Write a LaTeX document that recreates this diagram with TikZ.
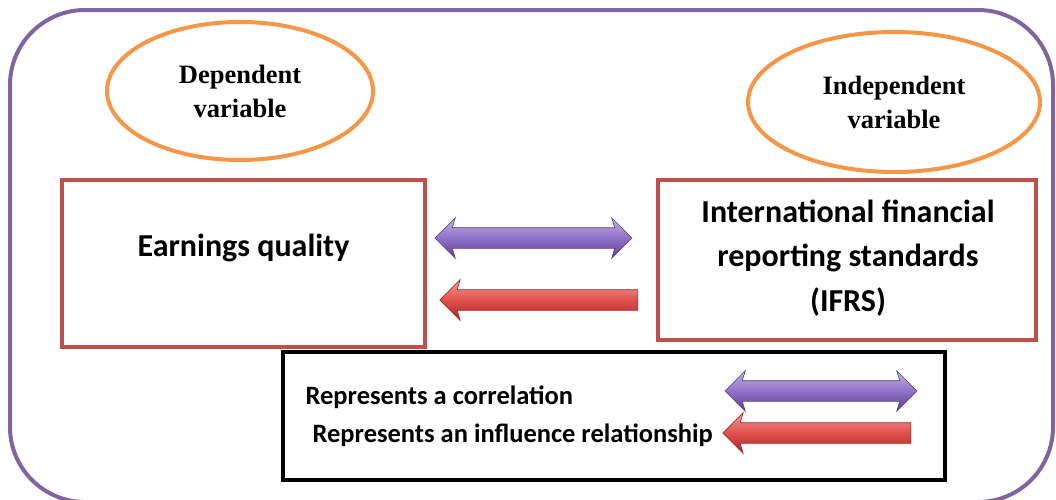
\documentclass[tikz,border=0pt]{standalone}
\usepackage{fontspec}
\setmainfont{Liberation Serif}
\newfontfamily\carlitofont{Carlito}
\usetikzlibrary{shapes.geometric,shapes.arrows}
\definecolor{frameP}{HTML}{8064A2}
\definecolor{ellO}{HTML}{F79646}
\definecolor{boxR}{HTML}{C0504D}
\definecolor{arrP}{HTML}{8F72C8}
\definecolor{arrPd}{HTML}{5B3F8C}
\definecolor{arrR}{HTML}{E2504C}
\definecolor{arrRd}{HTML}{A02A28}
\tikzset{
  frame/.style={draw=frameP,line width=4pt,rounded corners=75pt},
  varell/.style={ellipse,draw=ellO,line width=4pt,align=center,inner sep=0pt,font=\bfseries\fontsize{26.5}{34}\selectfont},
  conbox/.style={draw=boxR,line width=4pt},
  legbox/.style={draw=black,line width=4pt},
  purarrow/.style={double arrow,draw=arrPd,line width=0.6pt,top color=arrP!55!white,bottom color=arrPd,middle color=arrP,
     minimum height=#1,inner sep=0pt,double arrow head extend=10pt,double arrow head indent=3pt},
  redarrow/.style={single arrow,shape border rotate=180,draw=arrRd,line width=0.6pt,top color=arrR!55!white,bottom color=arrRd,middle color=arrR,
     minimum height=#1,inner sep=0pt,single arrow head extend=10pt,single arrow head indent=3pt},
  txt/.style={font=\carlitofont\bfseries\fontsize{#1}{#1}\selectfont},
  legtext/.style={font=\carlitofont\bfseries\fontsize{26.5}{30}\selectfont,anchor=west},
}
\newcommand{\shaft}{\rule{0pt}{20pt}}
\begin{document}
\begin{tikzpicture}[x=1pt,y=-1pt]
\useasboundingbox (0,0) rectangle (1056,499);
\begin{scope}
\clip (0,0) rectangle (1056,499);
\draw[frame] (10,10) rectangle (1053,502);
\end{scope}
\node[varell,minimum width=266pt,minimum height=138pt] (dep) at (240,91) {Dependent\\variable};
\node[varell,minimum width=292pt,minimum height=140pt] (ind) at (894,102) {Independent\\variable};
\node[conbox,minimum width=363pt,minimum height=167pt] (eq) at (243.5,263.5) {};
\node[txt=32] (eqt) at (243.5,248) {Earnings quality};
\node[conbox,minimum width=378pt,minimum height=160pt] (ifrs) at (847,260) {};
\node[txt=32,align=center,font=\carlitofont\bfseries\fontsize{32}{44.5}\selectfont] (ifrst) at (848,258) {International financial\\reporting standards\\(IFRS)};
\node[legbox,minimum width=662pt,minimum height=128pt] (leg) at (614,416) {};
\node[purarrow=197pt] (corr) at (533.5,238) {\shaft};
\node[redarrow=198pt] (infl) at (544,300) {\shaft};
\node[purarrow=192pt] (lcorr) at (821,391) {\shaft};
\node[redarrow=188pt] (linfl) at (822,433) {\shaft};
\node[legtext] (t1) at (302,397) {Represents a correlation};
\node[legtext] (t2) at (309,435) {Represents an influence relationship};
\end{tikzpicture}
\end{document}
